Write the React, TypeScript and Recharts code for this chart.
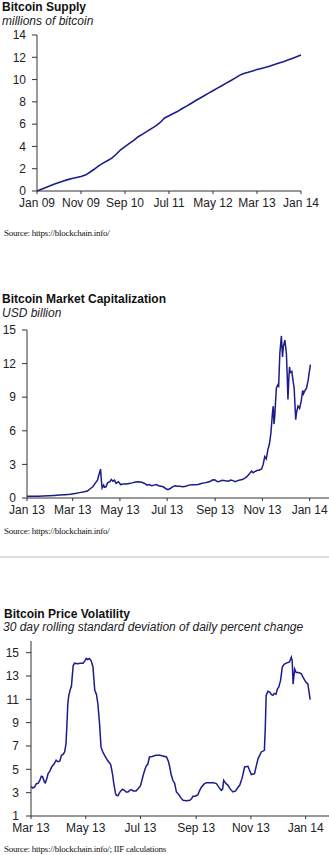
import { LineChart, Line, XAxis, YAxis } from "recharts";

// ---- Bitcoin supply (monthly, Jan 09 .. Jan 14), millions of bitcoin
const supplyValues = [
  0, 0.16, 0.32, 0.47, 0.62, 0.76, 0.9, 1.02, 1.12, 1.21, 1.3, 1.43, 1.68,
  1.95, 2.25, 2.5, 2.72, 2.95, 3.3, 3.7, 3.98, 4.27, 4.55, 4.87, 5.1, 5.35,
  5.6, 5.85, 6.15, 6.55, 6.75, 6.95, 7.15, 7.4, 7.62, 7.85, 8.1, 8.32, 8.55,
  8.78, 9.0, 9.23, 9.45, 9.68, 9.9, 10.13, 10.38, 10.55, 10.65, 10.77, 10.9,
  11.0, 11.1, 11.22, 11.35, 11.48, 11.6, 11.75, 11.9, 12.05, 12.2,
];
const supplyTicks = [0, 10, 20, 30, 40, 50, 60];
const supplyTickLabels = ["Jan 09", "Nov 09", "Sep 10", "Jul 11", "May 12", "Mar 13", "Jan 14"];
const supplyYTicks = [0, 2, 4, 6, 8, 10, 12, 14];

// ---- Market cap (days since Jan 1 2013), USD billion
const capDays = [
  0, 7, 14, 21, 28, 35, 42, 49, 56, 62, 68, 74, 78, 82, 85, 88, 91, 93, 95, 96,
  97, 99, 100, 102, 104, 107, 109, 111, 113, 115, 118, 121, 124, 128, 132, 136,
  140, 144, 148, 152, 155, 158, 161, 164, 167, 170, 173, 176, 179, 182, 185,
  188, 191, 194, 197, 201, 205, 209, 213, 217, 221, 225, 229, 233, 237, 240,
  243, 246, 249, 252, 256, 260, 263, 266, 269, 272, 275, 278, 281, 284, 287,
  290, 292, 294, 297, 300, 303, 305, 307, 309, 311, 313, 315, 317, 318, 319,
  320, 322, 324, 325, 326.5, 328.5, 330, 331, 333, 335, 336, 337, 338, 339,
  340, 342, 343.5, 345, 347, 348, 350, 352, 354, 356, 357, 359, 361, 363, 366,
];
const capValues = [
  0.15, 0.15, 0.16, 0.18, 0.2, 0.23, 0.26, 0.3, 0.34, 0.4, 0.48, 0.55, 0.62,
  0.85, 1.0, 1.3, 1.6, 2.1, 2.58, 1.6, 0.9, 1.15, 0.95, 1.0, 1.35, 1.45, 1.65,
  1.5, 1.6, 1.3, 1.45, 1.2, 1.25, 1.25, 1.3, 1.35, 1.42, 1.45, 1.4, 1.3, 1.15,
  1.2, 1.1, 1.15, 1.2, 1.1, 1.05, 1.0, 0.85, 0.75, 0.85, 1.0, 1.1, 1.05, 1.05,
  1.0, 1.05, 1.15, 1.18, 1.18, 1.2, 1.3, 1.35, 1.4, 1.5, 1.62, 1.6, 1.45, 1.5,
  1.58, 1.55, 1.5, 1.6, 1.55, 1.45, 1.55, 1.6, 1.65, 1.75, 1.9, 2.15, 2.4,
  2.25, 2.35, 2.45, 2.5, 2.6, 3.0, 3.7, 3.5, 4.3, 4.8, 5.8, 7.6, 8.2, 6.6,
  7.4, 9.8, 10.1, 10.0, 12.9, 14.47, 12.6, 13.5, 14.1, 12.9, 11.0, 8.8, 10.5,
  11.7, 11.2, 11.3, 10.5, 9.8, 7.0, 7.6, 8.2, 8.0, 8.6, 9.6, 9.3, 9.6, 9.8,
  10.5, 11.9,
];
const capTicks = [0, 59, 120, 181, 243, 304, 365];
const capTickLabels = ["Jan 13", "Mar 13", "May 13", "Jul 13", "Sep 13", "Nov 13", "Jan 14"];
const capYTicks = [0, 3, 6, 9, 12, 15];

// ---- Volatility (days since Mar 1 2013), 30d rolling std dev of daily % change
const volDays = [
  0, 2, 4, 6, 8, 10, 11.5, 13, 15, 16, 18, 19, 21, 23, 24.5, 26, 28, 30, 32, 34,
  36, 37.5, 39, 40, 41, 42, 44, 45, 47, 48.6, 52, 55, 58, 60, 61.5, 63, 65, 67,
  69, 70, 71, 73, 74.5, 76.4, 78, 80, 82, 85, 88, 89, 91, 92, 94, 95, 97, 98,
  100, 102, 104, 106, 108, 110, 111.6, 114, 117, 120, 122, 125, 127, 128.7,
  130, 132, 135, 139, 143.5, 147, 151, 153, 154.6, 156, 158, 160, 162, 165,
  167, 169.4, 173, 177, 179, 180.5, 183, 186, 188, 190, 193, 195.4, 200, 203,
  206.6, 209, 212, 213.5, 214.7, 217, 219.5, 222, 225, 228, 230, 232.5, 235,
  238, 241.7, 243, 245.5, 249, 251, 253, 256.6, 260, 261, 262, 264, 266, 268,
  269.5, 271, 273, 274.5, 276, 278, 280, 282, 284.4, 288, 290, 291, 292,
  293.7, 295.4, 298, 301, 303, 306, 308.5, 311,
];
const volValues = [
  3.55, 3.4, 3.49, 3.77, 3.8, 4.1, 4.4, 4.35, 3.9, 3.85, 4.3, 4.63, 4.85, 5.2,
  5.35, 5.5, 5.78, 5.65, 5.7, 6.2, 6.3, 6.5, 7.2, 8.8, 10.6, 11.3, 11.9, 12.1,
  13.9, 14.1, 14.05, 14.1, 14.1, 14.3, 14.5, 14.4, 14.5, 14.3, 13.8, 12.8,
  11.8, 11.4, 10.6, 8.9, 6.9, 6.5, 6.2, 5.8, 5.5, 5.35, 4.5, 3.91, 3.0, 2.77,
  2.75, 2.92, 3.15, 3.29, 3.2, 3.05, 3.06, 3.2, 3.26, 3.15, 3.15, 3.4, 3.6,
  4.49, 5.0, 5.35, 5.4, 6.06, 6.1, 6.2, 6.2, 6.15, 6.06, 5.7, 5.2, 4.6, 4.06,
  3.8, 3.06, 2.8, 2.55, 2.35, 2.3, 2.35, 2.5, 2.69, 2.7, 2.83, 3.2, 3.49, 3.75,
  3.86, 3.85, 3.85, 3.78, 3.5, 3.2, 3.3, 4.06, 3.8, 3.63, 3.3, 3.06, 3.15, 3.4,
  3.63, 4.2, 5.2, 5.26, 5.0, 4.55, 4.63, 5.3, 5.92, 6.49, 6.63, 8.5, 11.34,
  11.7, 11.63, 11.4, 11.34, 11.5, 11.43, 11.9, 12.05, 12.6, 13.77, 14.0, 14.1,
  14.2, 14.6, 14.3, 12.3, 13.6, 13.3, 13.3, 13.2, 12.9, 12.5, 12.3, 10.97,
];
const volTicks = [0, 61, 122, 184, 245, 306];
const volTickLabels = ["Mar 13", "May 13", "Jul 13", "Sep 13", "Nov 13", "Jan 14"];
const volYTicks = [1, 3, 5, 7, 9, 11, 13, 15];

const LINE = "#1c1c8c";
const AXIS = "#333";
const FONT = '"Liberation Sans", Arial, sans-serif';
const tickStyle = { fontSize: 12, fill: "#222", fontFamily: FONT };

const supplyData = supplyValues.map((v, i) => ({ x: i, v }));
const capData = capDays.map((d, i) => ({ x: d, v: capValues[i] }));
const volData = volDays.map((d, i) => ({ x: d, v: volValues[i] }));

function Title({ top, left = 2, text }: { top: number; left?: number; text: string }) {
  return (
    <div style={{ position: "absolute", top, left, fontSize: 12, lineHeight: "14px", fontWeight: 700, color: "#111", whiteSpace: "nowrap" }}>
      {text}
    </div>
  );
}

function Sub({ top, left = 2, text }: { top: number; left?: number; text: string }) {
  return (
    <div style={{ position: "absolute", top, left, fontSize: 12, lineHeight: "14px", fontStyle: "italic", color: "#222", whiteSpace: "nowrap" }}>
      {text}
    </div>
  );
}

function Source({ top, text }: { top: number; text: string }) {
  return (
    <div
      style={{
        position: "absolute",
        top,
        left: 4,
        fontFamily: '"Liberation Serif", "Times New Roman", serif',
        fontSize: 9,
        lineHeight: "10px",
        letterSpacing: -0.25,
        color: "#111",
        whiteSpace: "nowrap",
      }}
    >
      {text}
    </div>
  );
}

export default function App() {
  return (
    <div style={{ position: "relative", width: 329, height: 855, fontFamily: FONT, background: "#fff", overflow: "hidden" }}>
      <style>{`body{margin:0}`}</style>

      {/* Chart 1 */}
      <Title top={0} text="Bitcoin Supply" />
      <Sub top={14} text="millions of bitcoin" />
      <div style={{ position: "absolute", top: 0, left: 0 }}>
        <LineChart width={329} height={215} data={supplyData} margin={{ top: 35, right: 28, bottom: 4, left: 0 }}>
          <XAxis
            dataKey="x"
            type="number"
            domain={[0, 60]}
            ticks={supplyTicks}
            interval={0}
            tickFormatter={(v) => supplyTickLabels[supplyTicks.indexOf(v)] ?? ""}
            tick={tickStyle}
            tickSize={3}
            tickMargin={4}
            height={20}
            stroke={AXIS}
          />
          <YAxis
            type="number"
            domain={[0, 14]}
            ticks={supplyYTicks}
            interval={0}
            tick={tickStyle}
            tickSize={5}
            tickMargin={6}
            width={37}
            stroke={AXIS}
          />
          <Line dataKey="v" stroke={LINE} strokeWidth={1.6} dot={false} isAnimationActive={false} />
        </LineChart>
      </div>
      <Source top={228} text="Source: https://blockchain.info/" />

      {/* Chart 2 */}
      <Title top={292} text="Bitcoin Market Capitalization" />
      <Sub top={306} text="USD billion" />
      <div style={{ position: "absolute", top: 318, left: 0 }}>
        <LineChart width={329} height={202} data={capData} margin={{ top: 12, right: 0, bottom: 2, left: 0 }}>
          <XAxis
            dataKey="x"
            type="number"
            domain={[0, 390]}
            ticks={capTicks}
            interval={0}
            tickFormatter={(v) => capTickLabels[capTicks.indexOf(v)] ?? ""}
            tick={tickStyle}
            tickSize={3}
            tickMargin={4}
            height={20}
            stroke={AXIS}
          />
          <YAxis
            type="number"
            domain={[0, 15]}
            ticks={capYTicks}
            interval={0}
            tick={tickStyle}
            tickSize={5}
            tickMargin={6}
            width={27}
            stroke={AXIS}
          />
          <Line dataKey="v" stroke={LINE} strokeWidth={1.5} dot={false} isAnimationActive={false} />
        </LineChart>
      </div>
      <Source top={526} text="Source: https://blockchain.info/" />
      <div style={{ position: "absolute", top: 556, left: 0, width: 329, height: 2, background: "#ddd" }} />

      {/* Chart 3 */}
      <Title top={607} left={4} text="Bitcoin Price Volatility" />
      <Sub top={620} left={3} text="30 day rolling standard deviation of daily percent change" />
      <div style={{ position: "absolute", top: 628, left: 0 }}>
        <LineChart width={329} height={210} data={volData} margin={{ top: 13, right: 0, bottom: 2, left: 0 }}>
          <XAxis
            dataKey="x"
            type="number"
            domain={[0, 332]}
            ticks={volTicks}
            interval={0}
            tickFormatter={(v) => volTickLabels[volTicks.indexOf(v)] ?? ""}
            tick={tickStyle}
            tickSize={3}
            tickMargin={4}
            height={20}
            stroke={AXIS}
          />
          <YAxis
            type="number"
            domain={[1, 16]}
            ticks={volYTicks}
            interval={0}
            tick={tickStyle}
            tickSize={5}
            tickMargin={7}
            width={31}
            stroke={AXIS}
          />
          <Line dataKey="v" stroke={LINE} strokeWidth={1.5} dot={false} isAnimationActive={false} />
        </LineChart>
      </div>
      <Source top={844} text="Source: https://blockchain.info/; IIF calculations" />
    </div>
  );
}
